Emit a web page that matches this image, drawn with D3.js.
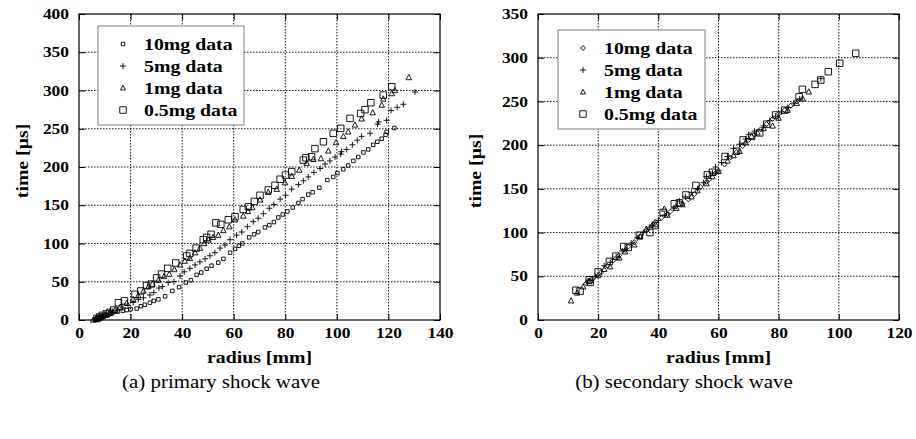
<!DOCTYPE html>
<html>
<head>
<meta charset="utf-8">
<script src="https://cdn.jsdelivr.net/npm/d3@7"></script>
<style>
  body { margin: 0; background: #fff; }
  svg { display: block; }
  svg text { font-family: "Liberation Serif", "Times New Roman", Times, "DejaVu Serif", serif; }
  .tick-label { font-weight: bold; font-size: 14.5px; }
  .axis-title { font-weight: bold; font-size: 16.5px; }
  .legend-text { font-weight: bold; font-size: 16.5px; }
  .caption { font-weight: normal; font-size: 19px; }
</style>
</head>
<body>
<div id="chart"></div>
<script>
// panel (a): primary shock wave  [radius mm, time us]
const primary10mg = [[6.5,1],[7,2],[7.5,3],[8,3],[8.5,4],[9,4],[9.5,5],[10,6],[11,6],[12,8],[13.3,10],[15,11],[17,12],[18.5,13],[20,14],[22.4,15],[24,18],[25.5,20],[27.5,22.6],[29,25],[30.8,27],[33.4,31],[36.2,38],[38.8,43],[41.4,49],[43.4,52],[45.6,59],[47.4,62],[49.5,67],[51.4,71],[54,75],[56,80],[58.6,88],[60.5,93],[62,97],[63.3,100],[66,108],[67.9,112],[69.5,115],[72.1,121],[73.8,124],[75.6,128],[77.3,134],[79,138],[80.8,142],[82.9,147],[85.1,153],[86.7,158],[88.9,164],[90.6,167],[93.2,173],[96.3,183],[98.6,187],[100.2,192],[102.5,197],[104.4,202],[106.4,208],[108.3,213],[110.3,219],[112.2,223],[114.1,229],[115.7,233],[117.4,237],[118.9,242],[119.3,246],[122.3,251]];
const primary5mg = [[6.5,1],[7.5,2],[8.5,3],[9.5,5],[10.5,7],[11.5,8],[13,10],[15,13],[17,16],[19,19],[21,23],[23,27],[25,29],[27.5,32.7],[29,36],[31,41.8],[32.3,43.6],[34.6,49],[36.8,50],[39.2,57.5],[40.8,63],[43,67.5],[45,72],[46.9,76],[48.9,80],[50.8,84],[52.7,88],[54.7,94],[56.6,98],[58.6,105],[61.1,111],[63.1,115],[65.3,122],[67.6,128.5],[69.5,133],[71.5,139],[73.8,146],[75.6,151],[78,158],[80.1,163],[82.5,171],[85.1,177],[87,182],[88.9,187],[91.1,193],[93.5,198],[95.4,204],[97.3,208],[99.3,213],[101.5,217],[101.8,220],[103.8,223],[106,229],[107.9,235],[109.6,240],[112.9,244],[115.8,256],[116.2,259],[119.3,261],[121,274],[123.4,278],[125.8,282],[130.3,298]];
const primary1mg = [[5.5,0],[6.5,1],[7.5,3],[8.5,4],[10,7],[12,10],[14,13],[16,17],[18.5,22],[21,27],[23,32],[25,38],[26.9,43.6],[28.5,47],[30.8,52],[33,57],[35,60],[37,66],[39.2,72],[41,77],[43,80.6],[45,88],[46.9,94],[48.5,100],[50.2,104.6],[52,108],[54,111],[56,117],[58.3,122],[60.5,131],[63.7,136],[65.5,142],[67.2,147],[70.2,157],[73.4,167],[76.7,171],[79.9,179.5],[82.5,188],[85.4,196],[88.3,205],[90.9,210],[93.8,211],[96.7,221],[99.7,232],[102.5,240],[104.4,246],[107,255],[109.6,263],[113.9,271],[117.4,281],[118,289],[121.3,296],[122.5,300],[127.9,317]];
const primary05mg = [[7,2],[8,4],[9,6],[10.5,8],[12,10],[13.5,13],[15.3,22.6],[17.6,25],[21.7,33.5],[24,38],[26.2,45],[28,47],[30.1,55],[32,60],[34.4,67.5],[37.5,74.5],[41.8,83.7],[43,87],[45.4,94],[48.2,105],[49.5,108],[51.2,112],[53.1,127],[55,125],[57.9,131],[60.5,135],[63.7,144.6],[65.7,148],[68,155],[70.2,163],[73.4,170],[76,176],[78,184],[80.1,189.5],[82.5,194],[87,209],[88,212],[90.2,213.5],[91.5,224],[94.8,233],[98.6,244],[101.5,250.5],[105.1,263.6],[109.2,270],[110.9,275],[113.2,284],[118,294],[121.3,305]];

// panel (b): secondary shock wave
const secondary10mg = [[16,42],[18,47],[21,55],[23,62],[25,68],[27,74],[29,80],[30,84],[32,89],[34,96],[36,102],[38,108],[39,112],[41,117],[43,121],[44,124],[46,130],[48,133],[50,138],[52,144],[54,152],[56,158],[57,161],[59,168],[60,171],[62,178],[64,186],[66,192],[68,199],[70,206],[72,212],[74,218],[76,224],[78,230],[80,236],[82,240],[84,245],[86,250]];
const secondary5mg = [[17,45],[19,50],[22,62],[24,66],[26,72],[28,79],[31,88],[33,94],[35,100],[37,106],[38,108],[40,114],[42,120],[45,128],[47,136],[49,141],[51,146],[53,150],[55,157],[56,164],[58,168],[59,175],[61,180],[63,187],[65,196],[67,201],[69,207],[70,212],[72,216],[75,222],[77,228],[79,233],[81,238],[83,243],[85,248],[87,253],[94,276]];
const secondary1mg = [[11,22],[13,31],[15,38],[17,44],[20,51],[22,58],[24,61],[27,71],[29,78],[32,86],[34,95],[36,104],[39,109],[42,127],[43,120],[46,128],[48,132],[51,141],[53,148],[56,156],[58,164],[60,170],[63,182],[65,188],[67,193],[69,203],[71,210],[73,214],[75,219],[78,222],[80,231],[83,240],[86,248],[88,253],[90,261]];
const secondary05mg = [[12.6,34],[14,33],[17,46],[17.4,43],[20,55],[23.7,67],[25.9,73],[28.5,84],[30,83],[33.7,97],[37.2,100],[39,108],[41.6,123],[45.3,133],[47,134],[49.2,143],[52.5,154],[56.3,166],[58,169],[62.2,187],[66,193],[68.2,206],[71,210],[73.7,214],[76,224],[79,234.5],[82,240],[86.8,255.4],[87.9,263.8],[92.1,269.5],[94,274.5],[96.5,284],[100.3,293.6],[105.6,305]];

const seriesNames = ["10mg data", "5mg data", "1mg data", "0.5mg data"];
const xTicksA = [0, 20, 40, 60, 80, 100, 120, 140];
const yTicksA = [0, 50, 100, 150, 200, 250, 300, 350, 400];
const xTicksB = [0, 20, 40, 60, 80, 100, 120];
const yTicksB = [0, 50, 100, 150, 200, 250, 300, 350];
const captions = ["(a) primary shock wave", "(b) secondary shock wave"];

const width = 916, height = 439;
const serif = "'Liberation Serif', 'Times New Roman', Times, 'DejaVu Serif', serif";
const svg = d3.select("#chart").append("svg")
    .attr("width", width)
    .attr("height", height);

// marker outlines, size = full width in px
function markerPath(type, s) {
    const h = s / 2;
    if (type === "square") return `M${-h},${-h}H${h}V${h}H${-h}Z`;
    if (type === "plus") return `M${-h},0H${h}M0,${-h}V${h}`;
    if (type === "triangle") return `M0,${-h * 1.1}L${h},${h * 0.8}L${-h},${h * 0.8}Z`;
    if (type === "diamond") return `M0,${-h}L${h},0L0,${h}L${-h},0Z`;
}

function drawPanel(cfg) {
    const g = svg.append("g");
    const x = d3.scaleLinear().domain(cfg.xDomain).range([cfg.left, cfg.right]);
    const y = d3.scaleLinear().domain(cfg.yDomain).range([cfg.bottom, cfg.top]);

    // dotted grid
    g.append("g").selectAll("line")
        .data(cfg.xTicks.slice(1, -1))
        .join("line")
        .attr("x1", d => x(d)).attr("x2", d => x(d))
        .attr("y1", cfg.top).attr("y2", cfg.bottom)
        .attr("stroke", "#000").attr("stroke-width", 0.9)
        .attr("stroke-dasharray", "1.5,1.5");
    g.append("g").selectAll("line")
        .data(cfg.yTicks.slice(1, -1))
        .join("line")
        .attr("x1", cfg.left).attr("x2", cfg.right)
        .attr("y1", d => y(d)).attr("y2", d => y(d))
        .attr("stroke", "#000").attr("stroke-width", 0.9)
        .attr("stroke-dasharray", "1.5,1.5");

    // inward tick marks on all four sides
    const tickLen = 6;
    const sides = [
        [d3.axisBottom(x).tickValues(cfg.xTicks), `translate(0,${cfg.bottom})`],
        [d3.axisTop(x).tickValues(cfg.xTicks), `translate(0,${cfg.top})`],
        [d3.axisLeft(y).tickValues(cfg.yTicks), `translate(${cfg.left},0)`],
        [d3.axisRight(y).tickValues(cfg.yTicks), `translate(${cfg.right},0)`]
    ];
    sides.forEach(([ax, tr]) => {
        const a = g.append("g").attr("transform", tr)
            .call(ax.tickSize(-tickLen).tickFormat(""));
        a.select(".domain").remove();
        a.selectAll(".tick line").attr("stroke", "#000");
    });

    // tick labels
    const xAxis = g.append("g")
        .attr("transform", `translate(0,${cfg.bottom})`)
        .call(d3.axisBottom(x).tickValues(cfg.xTicks).tickSize(0).tickPadding(8));
    const yAxis = g.append("g")
        .attr("transform", `translate(${cfg.left},0)`)
        .call(d3.axisLeft(y).tickValues(cfg.yTicks).tickSize(0).tickPadding(10));
    [xAxis, yAxis].forEach(a => {
        a.select(".domain").remove();
        a.attr("font-family", serif).attr("font-size", null);
        a.selectAll("text").attr("class", "tick-label stretch").attr("fill", "#000");
    });

    // data points
    cfg.series.forEach(s => {
        g.append("g").selectAll("path")
            .data(s.data)
            .join("path")
            .attr("transform", d => `translate(${x(d[0])},${y(d[1])})`)
            .attr("d", markerPath(s.type, s.size))
            .attr("fill", "none")
            .attr("stroke", "#000")
            .attr("stroke-width", 0.9);
    });

    // legend
    const lg = g.append("g");
    lg.append("rect")
        .attr("x", cfg.legend.x).attr("y", cfg.legend.y)
        .attr("width", cfg.legend.w).attr("height", cfg.legend.h)
        .attr("fill", "#fff").attr("stroke", "#808080").attr("stroke-width", 1);
    cfg.series.forEach((s, i) => {
        const cy = cfg.legend.y + 18 + i * 22;
        lg.append("path")
            .attr("transform", `translate(${cfg.legend.x + 25},${cy})`)
            .attr("d", markerPath(s.type, s.legendSize))
            .attr("fill", "none").attr("stroke", "#000").attr("stroke-width", 0.9);
        lg.append("text")
            .attr("class", "legend-text stretch")
            .attr("font-family", serif)
            .attr("x", cfg.legend.x + 46).attr("y", cy + 6)
            .text(seriesNames[i]);
    });

    // frame
    g.append("rect")
        .attr("x", cfg.left).attr("y", cfg.top)
        .attr("width", cfg.right - cfg.left).attr("height", cfg.bottom - cfg.top)
        .attr("fill", "none").attr("stroke", "#000").attr("stroke-width", 1.2);

    // axis titles
    g.append("text")
        .attr("class", "axis-title stretch")
        .attr("font-family", serif)
        .attr("x", (cfg.left + cfg.right) / 2).attr("y", cfg.bottom + 43)
        .attr("text-anchor", "middle")
        .text("radius [mm]");
    g.append("text")
        .attr("class", "axis-title stretch")
        .attr("font-family", serif)
        .attr("transform", `translate(${cfg.yTitleX},${cfg.yTitleY}) rotate(-90)`)
        .attr("text-anchor", "middle")
        .text("time [\u03bcs]");

    g.append("text")
        .attr("class", "caption")
        .attr("font-family", serif)
        .attr("x", cfg.captionX).attr("y", 388)
        .attr("text-anchor", "middle")
        .text(cfg.caption);
}

drawPanel({
    left: 79, right: 440, top: 14, bottom: 320,
    xDomain: [0, 140], yDomain: [0, 400],
    xTicks: xTicksA, yTicks: yTicksA,
    yTitleX: 28, yTitleY: 161,
    captionX: 221, caption: captions[0],
    legend: { x: 98, y: 26, w: 146, h: 99 },
    series: [
        { data: primary10mg, type: "square", size: 3.5, legendSize: 3.5 },
        { data: primary5mg, type: "plus", size: 6, legendSize: 6 },
        { data: primary1mg, type: "triangle", size: 5.5, legendSize: 5 },
        { data: primary05mg, type: "square", size: 6.5, legendSize: 6.5 }
    ]
});

drawPanel({
    left: 538, right: 899, top: 14, bottom: 320,
    xDomain: [0, 120], yDomain: [0, 350],
    xTicks: xTicksB, yTicks: yTicksB,
    yTitleX: 481, yTitleY: 171,
    captionX: 684, caption: captions[1],
    legend: { x: 558, y: 30, w: 147, h: 99 },
    series: [
        { data: secondary10mg, type: "diamond", size: 5, legendSize: 5 },
        { data: secondary5mg, type: "plus", size: 6, legendSize: 6 },
        { data: secondary1mg, type: "triangle", size: 5.5, legendSize: 5 },
        { data: secondary05mg, type: "square", size: 6.5, legendSize: 6.5 }
    ]
});

// the original type is horizontally wider than Times, so widen the glyphs
svg.selectAll("text.stretch").each(function() {
    const w = this.getComputedTextLength();
    d3.select(this).attr("textLength", w * 1.2).attr("lengthAdjust", "spacingAndGlyphs");
});
svg.selectAll("text.caption").each(function() {
    const w = this.getComputedTextLength();
    d3.select(this).attr("textLength", w * 1.1).attr("lengthAdjust", "spacingAndGlyphs");
});
</script>
</body>
</html>
